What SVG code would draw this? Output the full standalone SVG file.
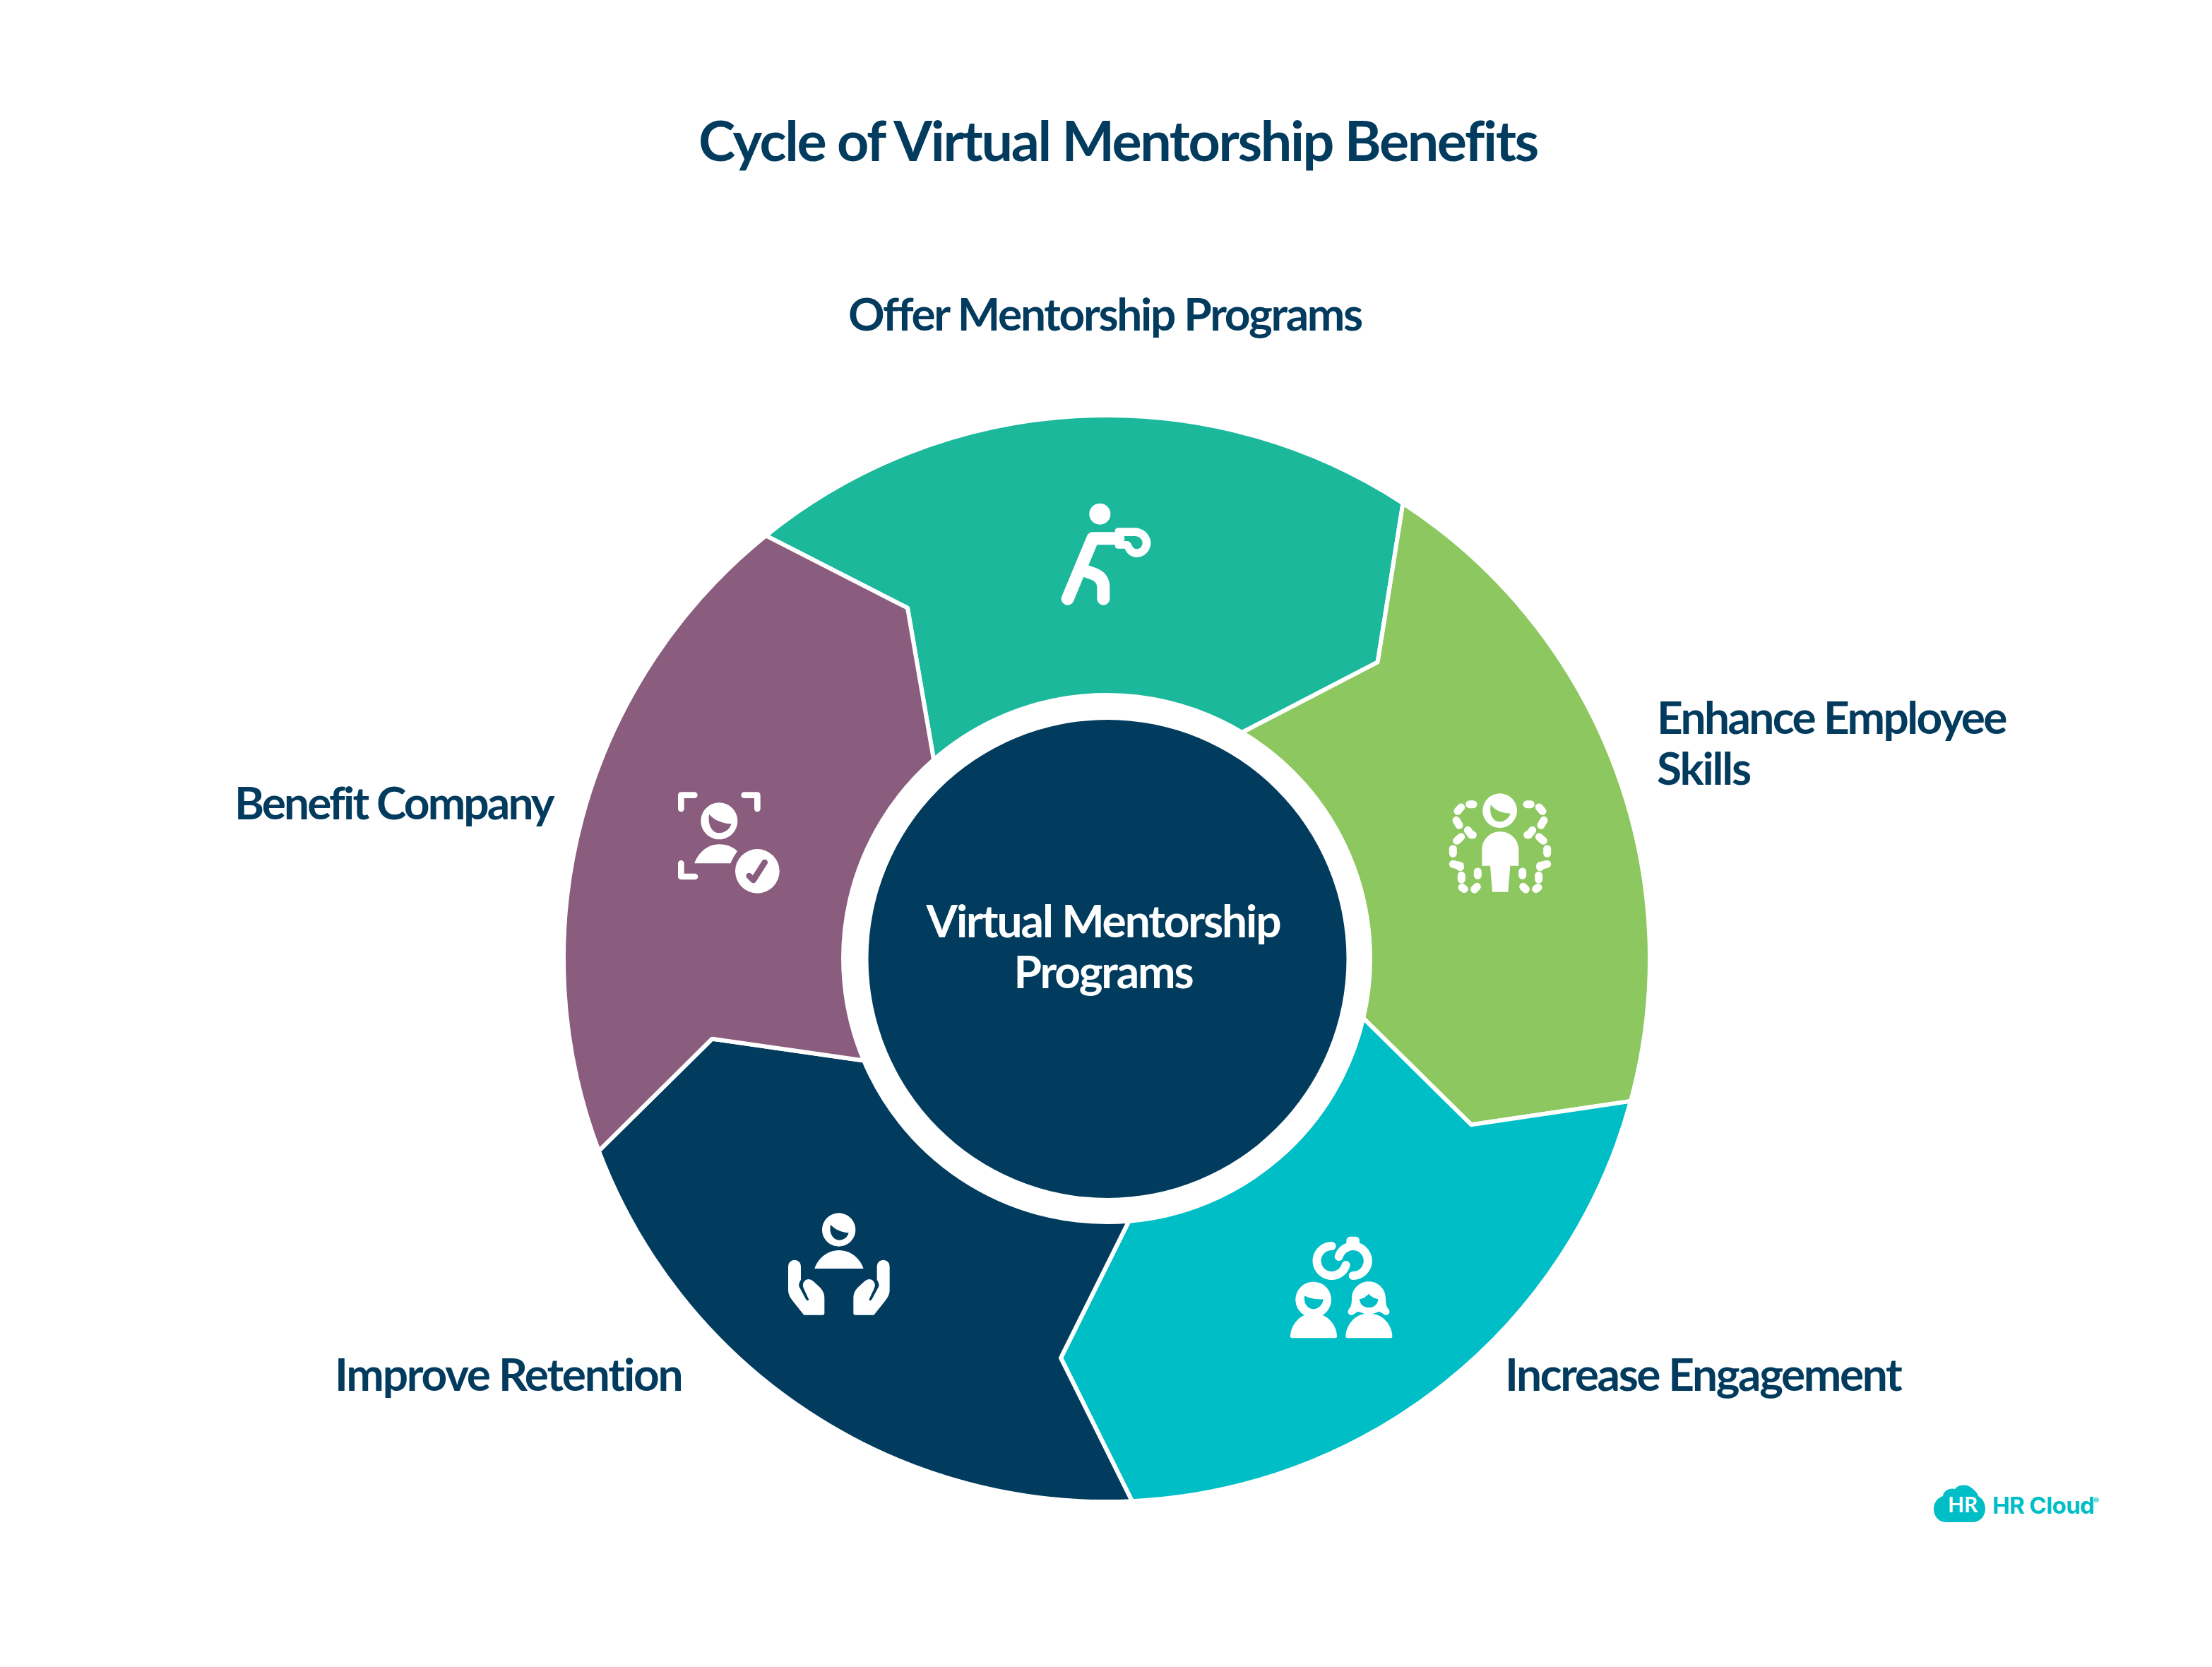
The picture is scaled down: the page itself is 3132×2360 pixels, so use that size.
<svg xmlns="http://www.w3.org/2000/svg" xmlns:xlink="http://www.w3.org/1999/xlink" width="3132" height="2360" viewBox="0 0 3132 2360">
<style>
.seg{stroke:#fff;stroke-width:6;stroke-linejoin:round}
.ico{fill:#fff;fill-rule:evenodd}
.line{fill:none;stroke:#fff;stroke-linecap:round;stroke-linejoin:round}
text{font-family:"Lato","Liberation Sans",sans-serif;font-weight:700;fill:#023b5e;font-variant-ligatures:common-ligatures}
.ttl{font-size:79px;letter-spacing:-2.4px;text-anchor:middle}
.lab{font-size:64px;letter-spacing:-2.2px}
.ctr{font-size:64px;letter-spacing:-2.1px;fill:#fff;text-anchor:middle}
.brand{font-family:"Inter","Liberation Sans",sans-serif;fill:#00bec6}
</style>
<rect width="3132" height="2360" fill="#fff"/>
<text id="title" class="ttl" x="1583" y="228">Cycle of Virtual Mentorship Benefits</text>

<g id="node-offer">
<path class="seg" fill="#1cb89c" d="M1084.5 758.3A769 769 0 0 1 1986.5 712.4L1950.7 937.3L1758.7 1037A373 373 0 0 0 1322.1 1075.6L1285 860.7Z"/>
<g transform="translate(1420 660) scale(.33333)">
<circle class="ico" cx="412" cy="203" r="45"/>
<path class="line" stroke-width="54" d="M275 563L382 307H490M350 445L380 455Q427 470 427 515V563"/>
<path class="ico" d="M490 262H560C600 262 628 295 628 325C628 360 600 387 570 387C545 387 525 370 518 350H490Q476 350 476 336V276Q476 262 490 262ZM512 297V318H525Q540 318 545 330C550 340 555 352 570 352C582 352 593 340 593 325C593 312 580 297 560 297Z"/>
</g>
<text class="lab" x="1201" y="468" style="letter-spacing:-2.3px">Offer Mentorship Programs</text>
</g>

<g id="node-enhance">
<path class="seg" fill="#8dc75f" d="M1986.5 712.4A769 769 0 0 1 2309 1558.9L2083.3 1592.3L1930.3 1441.4A373 373 0 0 0 1758.7 1037L1950.7 937.3Z"/>
<g transform="translate(1990 1080) scale(.33333)">
<path class="ico" d="M401 130A73 73 0 1 1 400.900 130ZM362 178C355 225 375 250 400 250C420 250 440 235 446 215C410 213 385 205 362 178Z"/>
<path class="ico" d="M325 437V370C325 325 360 292 402 292C445 292 481 325 481 370V437H445L436 548H369L360 437Z"/>
<g id="dots"><path class="line" stroke-width="33" d="M272 176H288M222 205L236 189M216 244L228 265M265 286L280 306H286M218 331L236 315M202 365V385M202 430L232 437V443M238 478V495M240 529L250 536M293 537L304 526M307 462V478"/></g>
<use xlink:href="#dots" href="#dots" transform="translate(804 0) scale(-1 1)"/>
</g>
<text class="lab" x="2346" y="1039" style="letter-spacing:-2.6px">Enhance Employee</text>
<text class="lab" x="2346" y="1111">Skills</text>
</g>

<g id="node-increase">
<path class="seg" fill="#00bec6" d="M2309 1558.9A769 769 0 0 1 1602.9 2125.2L1502 1922.3L1598.5 1728.7A373 373 0 0 0 1930.3 1441.4L2083.3 1592.3Z"/>
<g transform="translate(1790 1720) scale(.33333)">
<path class="line" stroke-width="36" d="M287 132A63 63 0 1 0 347 213M317 177A63 63 0 1 1 377 258"/>
<rect class="ico" x="349" y="92" width="56" height="38" rx="17"/>
<path class="ico" d="M209 284A76 76 0 1 1 208.900 284ZM172 343C165 375 185 400 210 400C230 400 250 380 251 358C225 360 190 355 172 343Z"/>
<path class="ico" d="M111 517C111 470 150 418 209 418C270 418 309 470 309 517Q309 523 302 523H118Q111 523 111 517Z"/>
<path class="ico" d="M346 517C346 470 385 418 444 418C505 418 544 470 544 517Q544 523 537 523H353Q346 523 346 517Z"/>
<path class="ico" d="M444 283C484 283 516 315 516 355C516 375 518 388 528 400C540 415 525 432 510 423L490 410L444 425L398 410L378 423C363 432 348 415 360 400C370 388 372 375 372 355C372 315 404 283 444 283ZM405 358C405 378 422 394 444 394C465 394 484 380 484 358C465 352 455 348 444 335C430 350 420 354 405 358Z"/>
</g>
<text class="lab" x="2131" y="1969" style="letter-spacing:-2.4px">Increase Engagement</text>
</g>

<g id="node-improve">
<path class="seg" fill="#013c5e" d="M1602.9 2125.2A769 769 0 0 1 847.8 1629.4L1008.3 1470.7L1223.2 1501.5A373 373 0 0 0 1598.5 1728.7L1502 1922.3Z"/>
<g transform="translate(1080 1690) scale(.33333)">
<path class="ico" d="M323 82A71 71 0 1 1 322.900 82ZM288 131C280 170 300 197 325 197C345 197 360 185 365 166C335 165 305 150 288 131Z"/>
<path class="ico" d="M220 318C235 270 280 240 323 240C370 240 412 270 428 318Z"/>
<path id="hand" class="ico" d="M108 308A27 27 0 0 1 162 308V365Q150 385 155 395L183 448Q190 458 196 450L175 405Q165 385 178 370Q195 355 215 372L245 400Q262 420 262 440V508Q262 515 255 515H175L125 452Q108 430 108 410Z"/>
<use xlink:href="#hand" href="#hand" transform="translate(647 0) scale(-1 1)"/>
</g>
<text class="lab" x="474" y="1969">Improve Retention</text>
</g>

<g id="node-benefit">
<path class="seg" fill="#8a5d7f" d="M847.8 1629.4A769 769 0 0 1 1084.5 758.3L1285 860.7L1322.1 1075.6A373 373 0 0 0 1223.2 1501.5L1008.3 1470.7Z"/>
<g transform="translate(930 1090) scale(.33333)">
<path class="line" stroke-width="26" d="M103 165V107H160M427 165V107H371M103 397V453H162"/>
<path class="ico" d="M265 139A78 78 0 1 1 264.900 139ZM222 188C215 235 235 268 265 268C290 268 310 250 317 229C275 228 240 210 222 188Z"/>
<path class="ico" d="M160 397C178 345 222 316 265 316C295 316 320 325 342 345Q325 368 313 397Z"/>
<circle class="ico" cx="427" cy="430" r="94"/>
<path fill="none" stroke="#8a5d7f" stroke-width="26" stroke-linecap="round" stroke-linejoin="round" d="M392 450L410 468L458 393"/>
</g>
<text class="lab" x="332" y="1160" style="letter-spacing:-2.9px">Benefit Company</text>
</g>

<g id="node-center">
<circle cx="1568" cy="1357.500" r="338.500" fill="#013c5e"/>
<text class="ctr" x="1562" y="1327">Virtual Mentorship</text>
<text class="ctr" x="1562" y="1399">Programs</text>
</g>

<g id="logo">
<path fill="#00bec6" d="M2757 2155C2741 2155 2738 2142 2738 2136C2738 2127 2744 2120 2751 2118C2752 2110 2761 2106 2768 2108C2772 2102 2784 2100 2791 2106C2796 2110 2800 2113 2801 2118C2808 2122 2811 2129 2811 2136C2811 2148 2802 2155 2793 2155Z"/>
<text x="2758" y="2141" font-size="30" style="fill:#fff">HR</text>
<text class="brand" x="2821" y="2143" font-size="33" letter-spacing="-.6">HR Cloud</text>
<text class="brand" x="2964" y="2129" font-size="12" font-weight="400">®</text>
</g>
</svg>
